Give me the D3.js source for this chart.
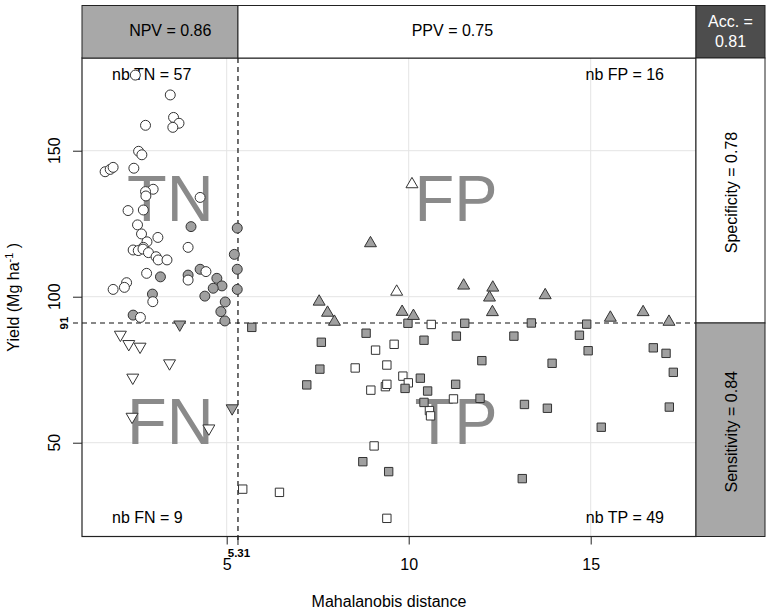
<!DOCTYPE html>
<html><head><meta charset="utf-8">
<script src="https://cdn.jsdelivr.net/npm/d3@7"></script>
<style>
html,body{margin:0;padding:0;background:#fff;}
text{font-family:"Liberation Sans",Arial,Helvetica,sans-serif;}
</style></head>
<body><svg id="chart" width="768" height="612"></svg>
<script>
// ---------- data ----------
const xThreshold = 5.31;
const yThreshold = 91;
const xTicks = [5, 10, 15];
const yTicks = [50, 100, 150];
const xTitle = "Mahalanobis distance";
const npvLabel = "NPV = 0.86";
const ppvLabel = "PPV = 0.75";
const accLabel = ["Acc. =", "0.81"];
const specLabel = "Specificity = 0.78";
const sensLabel = "Sensitivity = 0.84";
const quadrantNames = ["TN", "FP", "FN", "TP"];
const countLabels = ["nb TN = 57", "nb FP = 16", "nb FN = 9", "nb TP = 49"];

// TN: circles (distance, yield)
const tnWhite = [[2.49,175.9],[3.45,169.1],[3.54,161.4],[3.69,159.4],[3.52,158.0],[2.77,158.7],
  [2.58,149.8],[2.67,148.6],[1.66,142.8],[1.80,143.6],[1.88,144.3],[2.45,144.0],
  [2.98,136.8],[2.77,136.0],[2.78,134.5],[4.27,134.0],[2.29,129.5],[2.71,129.7],
  [2.55,124.6],[2.66,121.5],[3.11,120.3],[2.81,118.8],[2.71,116.9],[2.43,116.0],[2.57,115.8],
  [2.70,116.3],[2.85,115.1],[3.06,113.7],[3.12,112.6],[3.36,112.6],[3.94,116.9],[2.80,108.0],
  [3.94,105.7],[4.43,108.6],[2.25,104.8],[2.19,103.2],[1.88,102.5],[2.97,98.3],[2.63,92.9]];
const tnGray = [[4.02,124.0],[5.29,123.5],[5.21,114.5],[5.29,109.4],[3.18,106.8],[3.94,107.4],
  [4.27,109.4],[4.73,106.3],[4.87,103.7],[4.63,102.9],[5.29,102.5],[2.96,100.9],[4.40,100.2],
  [4.96,98.2],[4.84,94.9],[2.43,93.7],[4.95,91.7]];
// FN: down triangles
const fnWhite = [[2.08,87.0],[2.31,83.8],[2.62,82.9],[3.43,77.2],[2.42,72.3],[2.40,58.9],[4.51,54.9]];
const fnGray = [[3.71,90.5],[5.15,61.8]];
// FP: up triangles
const fpWhite = [[10.09,138.5],[9.67,101.7]];
const fpGray = [[8.95,118.3],[7.54,98.3],[7.77,94.5],[7.96,91.4],[9.82,94.8],[10.13,93.4],
  [11.51,103.8],[12.31,103.1],[12.22,99.7],[12.30,94.7],[13.75,100.5],[15.54,92.8],[16.44,94.7],[17.15,91.4]];
// TP: squares
const tpWhite = [[10.62,90.5],[9.60,83.7],[9.09,81.7],[8.53,75.6],[9.40,76.6],[8.96,68.0],[9.36,69.2],
  [9.40,70.0],[9.84,72.8],[9.99,70.5],[10.57,61.0],[10.60,59.2],[11.23,65.0],[9.05,48.9],
  [5.44,34.1],[6.45,33.0],[9.40,24.1]];
const tpGray = [[5.69,89.5],[9.98,90.9],[11.54,90.9],[8.83,87.5],[7.60,84.4],[10.42,85.1],[11.31,86.5],
  [7.56,75.2],[7.20,69.8],[9.90,68.6],[10.32,72.1],[10.52,67.7],[10.42,63.8],[11.29,70.0],
  [8.74,43.5],[9.45,40.1],[13.37,91.0],[14.89,90.6],[12.89,86.5],[14.69,86.8],[14.93,81.5],
  [16.72,82.5],[17.07,80.6],[17.27,74.1],[12.01,78.1],[13.94,77.2],[11.96,65.2],[13.18,63.1],
  [13.81,61.8],[17.16,62.2],[15.29,55.3],[13.12,37.7]];

// ---------- layout ----------
const svg = d3.select("#chart");
const L = 82, R = 696, T = 58, B = 536.5, bandTop = 5.5, bandRight = 765;
const x = d3.scaleLinear().domain([1.025, 17.893]).range([L, R]);
const y = d3.scaleLinear().domain([17.88, 181.75]).range([B, T]);
const GRAY = "#a8a8a8", PT = "#a0a0a0", BIG = "#8a8a8a";
const FS = 16;

// grid
svg.append("g").selectAll("line").data(xTicks).join("line")
  .attr("x1", d => x(d)).attr("x2", d => x(d)).attr("y1", T).attr("y2", B)
  .attr("stroke", "#e4e4e4").attr("stroke-width", 1);
svg.append("g").selectAll("line").data(yTicks).join("line")
  .attr("y1", d => y(d)).attr("y2", d => y(d)).attr("x1", L).attr("x2", R)
  .attr("stroke", "#e4e4e4").attr("stroke-width", 1);

// big quadrant letters
const qx = [3.45, 11.3, 3.45, 11.3], qy = [125.9, 125.9, 49.6, 49.6];
svg.append("g").selectAll("text").data(quadrantNames).join("text")
  .attr("x", (d, i) => x(qx[i])).attr("y", (d, i) => y(qy[i]))
  .attr("text-anchor", "middle").attr("font-size", 65).attr("fill", BIG).text(d => d);

// count labels
const cAnchor = ["start", "end", "start", "end"];
const cx = [L + 30, R - 32, L + 30, R - 32], cy = [80, 80, 523, 523];
svg.append("g").selectAll("text").data(countLabels).join("text")
  .attr("x", (d, i) => cx[i]).attr("y", (d, i) => cy[i]).attr("text-anchor", (d, i) => cAnchor[i])
  .attr("font-size", FS).attr("fill", "#000").text(d => d);

// threshold dashed lines
svg.append("line").attr("x1", x(xThreshold)).attr("x2", x(xThreshold)).attr("y1", T).attr("y2", B + 8)
  .attr("stroke", "#111").attr("stroke-width", 1.2).attr("stroke-dasharray", "5,4");
svg.append("line").attr("y1", y(yThreshold)).attr("y2", y(yThreshold)).attr("x1", L - 9).attr("x2", R)
  .attr("stroke", "#111").attr("stroke-width", 1.2).attr("stroke-dasharray", "5,4");

// points
const sym = (type, size) => d3.symbol().type(type).size(size)();
function drawPts(data, shape, fill, rot) {
  svg.append("g").selectAll("path").data(data).join("path")
    .attr("d", shape)
    .attr("transform", d => `translate(${x(d[0])},${y(d[1])})` + (rot ? " rotate(180)" : ""))
    .attr("fill", fill).attr("stroke", "#333").attr("stroke-width", 1);
}
const circ = sym(d3.symbolCircle, 78), sq = sym(d3.symbolSquare, 70), tri = sym(d3.symbolTriangle, 62);
drawPts(tnGray, circ, PT, false);
drawPts(tnWhite, circ, "#fff", false);
drawPts(fnWhite, tri, "#fff", true);
drawPts(fnGray, tri, PT, true);
drawPts(tpWhite, sq, "#fff", false);
drawPts(tpGray, sq, PT, false);
drawPts(fpWhite, tri, "#fff", false);
drawPts(fpGray, tri, PT, false);

// plot frame
svg.append("rect").attr("x", L).attr("y", T).attr("width", R - L).attr("height", B - T)
  .attr("fill", "none").attr("stroke", "#222").attr("stroke-width", 1.2);

// axes
const xAxis = svg.append("g").attr("transform", `translate(0,${B})`)
  .call(d3.axisBottom(x).tickValues(xTicks).tickSize(8).tickPadding(14).tickFormat(d3.format("d")));
xAxis.select(".domain").remove();
xAxis.selectAll("text").attr("font-size", FS).attr("fill", "#000").attr("font-family", null);
xAxis.selectAll("line").attr("stroke", "#222");
svg.append("line").attr("x1", x(xThreshold)).attr("x2", x(xThreshold)).attr("y1", B).attr("y2", B + 8).attr("stroke", "#222");
svg.append("text").attr("x", x(xThreshold) + 1).attr("y", 556.5).attr("text-anchor", "middle")
  .attr("font-size", 11.5).attr("font-weight", "bold").text(xThreshold.toFixed(2));

const yAxis = svg.append("g").attr("transform", `translate(${L},0)`)
  .call(d3.axisLeft(y).tickValues(yTicks).tickSize(9).tickFormat(d3.format("d")));
yAxis.select(".domain").remove();
yAxis.selectAll("line").attr("stroke", "#222");
yAxis.selectAll("text").remove();
svg.append("g").selectAll("text").data(yTicks).join("text")
  .attr("transform", d => `translate(60,${y(d)}) rotate(-90)`).attr("text-anchor", "middle")
  .attr("font-size", FS).text(d => d);
svg.append("text").attr("transform", `translate(68,${y(yThreshold)}) rotate(-90)`).attr("text-anchor", "middle")
  .attr("font-size", 11.5).attr("font-weight", "bold").text(yThreshold);

// axis titles
svg.append("text").attr("x", (L + R) / 2).attr("y", 607).attr("text-anchor", "middle")
  .attr("font-size", FS).text(xTitle);
const yt = svg.append("text").attr("transform", `translate(19,${(T + B) / 2}) rotate(-90)`)
  .attr("text-anchor", "middle").attr("font-size", FS);
yt.append("tspan").text("Yield (Mg ha");
yt.append("tspan").attr("dy", -6).attr("font-size", 11).text("-1");
yt.append("tspan").attr("dy", 6).text(" )");

// top band
const xt = x(xThreshold), yth = y(yThreshold);
svg.append("rect").attr("x", L).attr("y", bandTop).attr("width", xt - L).attr("height", T - bandTop)
  .attr("fill", GRAY).attr("stroke", "#222");
svg.append("rect").attr("x", xt).attr("y", bandTop).attr("width", R - xt).attr("height", T - bandTop)
  .attr("fill", "#fff").attr("stroke", "#222");
svg.append("rect").attr("x", R).attr("y", bandTop).attr("width", bandRight - R).attr("height", T - bandTop)
  .attr("fill", "#4d4d4d").attr("stroke", "#222");
svg.append("text").attr("x", x(3.45)).attr("y", 36).attr("text-anchor", "middle").attr("font-size", FS).text(npvLabel);
svg.append("text").attr("x", x(11.2)).attr("y", 36).attr("text-anchor", "middle").attr("font-size", FS).text(ppvLabel);
svg.append("g").selectAll("text").data(accLabel).join("text")
  .attr("x", (R + bandRight) / 2).attr("y", (d, i) => 27 + i * 20).attr("text-anchor", "middle")
  .attr("font-size", FS).attr("fill", "#fff").text(d => d);

// right band
svg.append("rect").attr("x", R).attr("y", T).attr("width", bandRight - R).attr("height", yth - T)
  .attr("fill", "#fff").attr("stroke", "#222");
svg.append("rect").attr("x", R).attr("y", yth).attr("width", bandRight - R).attr("height", B - yth)
  .attr("fill", GRAY).attr("stroke", "#222");
svg.append("text").attr("transform", `translate(737,${(T + yth) / 2 + 2}) rotate(-90)`).attr("text-anchor", "middle")
  .attr("font-size", FS).text(specLabel);
svg.append("text").attr("transform", `translate(737,${(yth + B) / 2 + 2}) rotate(-90)`).attr("text-anchor", "middle")
  .attr("font-size", FS).text(sensLabel);
</script></body></html>
